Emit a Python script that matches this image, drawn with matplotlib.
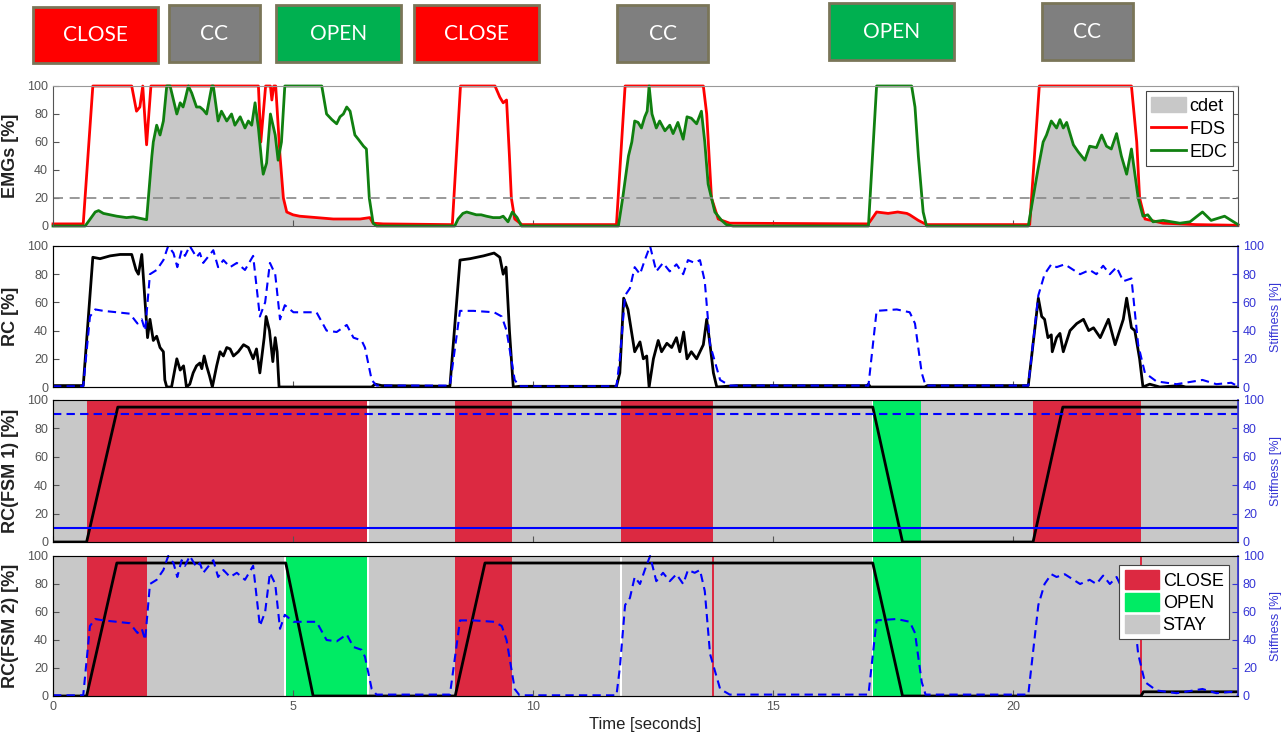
import numpy as np
import matplotlib
matplotlib.use("Agg")
import matplotlib.pyplot as plt
from matplotlib.patches import Rectangle, Patch
from matplotlib.lines import Line2D

plt.rcParams["font.family"] = ["Liberation Sans", "DejaVu Sans"]

# ---- data (time [s], value [%]) ----
fds = [(0, 1.5), (0.63, 1.5), (0.83, 100), (1.64, 100), (1.74, 82), (1.81, 85), (1.87, 100), (1.95, 58),
       (2.04, 100), (4.28, 100), (4.33, 60), (4.38, 80), (4.43, 100), (4.53, 100), (4.56, 90), (4.60, 100),
       (4.64, 100), (4.73, 50), (4.80, 20), (4.87, 10), (5.0, 8), (5.14, 7), (5.49, 6), (5.84, 5), (6.19, 5),
       (6.40, 5), (6.60, 6), (6.67, 2), (6.88, 1.5), (8.27, 1), (8.32, 1), (8.49, 100), (9.21, 100), (9.31, 92),
       (9.38, 88), (9.45, 90), (9.51, 50), (9.55, 20), (9.62, 5), (9.77, 1), (11.74, 1), (11.92, 100),
       (13.55, 100), (13.62, 80), (13.72, 20), (13.86, 5), (14.1, 2), (16.99, 1.5), (17.16, 10), (17.4, 9),
       (17.6, 10), (17.79, 9), (17.85, 8), (18.03, 4), (18.2, 1), (20.35, 1), (20.55, 100), (22.47, 100),
       (22.58, 60), (22.64, 20), (22.75, 5), (23.13, 2), (23.82, 1), (24.69, 0.5)]

edc = [(0, 0), (0.67, 0), (0.88, 10), (0.95, 11), (1.05, 9), (1.19, 8), (1.33, 7), (1.53, 6), (1.67, 6.5),
       (1.88, 5), (1.95, 4.5), (2.06, 50), (2.09, 60), (2.16, 72), (2.23, 65), (2.30, 75), (2.37, 100),
       (2.44, 100), (2.58, 80), (2.65, 88), (2.71, 85), (2.75, 90), (2.82, 100), (2.89, 95), (2.99, 85),
       (3.06, 85), (3.13, 83), (3.20, 80), (3.31, 100), (3.34, 100), (3.44, 75), (3.51, 82), (3.62, 75),
       (3.72, 80), (3.79, 72), (3.90, 78), (4.0, 70), (4.07, 75), (4.14, 72), (4.21, 88), (4.28, 70),
       (4.35, 45), (4.38, 37), (4.45, 45), (4.53, 80), (4.63, 65), (4.69, 47), (4.76, 60), (4.83, 100),
       (5.60, 100), (5.70, 80), (5.81, 76), (5.91, 73), (5.98, 78), (6.05, 80), (6.12, 85), (6.19, 82),
       (6.29, 65), (6.36, 62), (6.47, 57), (6.53, 55), (6.59, 20), (6.67, 2), (6.74, 0), (8.37, 0), (8.44, 5),
       (8.54, 9), (8.62, 10), (8.72, 9), (8.82, 8), (8.92, 8), (9.03, 7), (9.17, 6), (9.31, 6), (9.38, 7),
       (9.48, 3), (9.57, 10), (9.67, 6), (9.76, 0), (11.78, 0), (11.87, 20), (11.99, 50), (12.06, 60),
       (12.12, 75), (12.19, 74), (12.26, 70), (12.33, 78), (12.38, 82), (12.42, 100), (12.48, 80), (12.57, 70),
       (12.64, 75), (12.75, 68), (12.85, 72), (12.92, 66), (13.02, 74), (13.13, 62), (13.21, 78), (13.30, 77),
       (13.41, 73), (13.51, 82), (13.58, 60), (13.65, 30), (13.79, 10), (13.93, 4), (14.03, 1), (14.17, 0),
       (16.99, 0), (17.16, 100), (17.89, 100), (17.96, 85), (18.03, 50), (18.13, 10), (18.2, 0), (20.32, 0),
       (20.42, 20), (20.52, 40), (20.63, 60), (20.70, 65), (20.80, 75), (20.91, 70), (20.98, 76), (21.05, 70),
       (21.12, 74), (21.26, 58), (21.36, 53), (21.50, 47), (21.60, 57), (21.74, 56), (21.85, 65), (21.95, 57),
       (22.05, 55), (22.16, 66), (22.26, 50), (22.37, 37), (22.47, 55), (22.61, 20), (22.71, 7), (22.81, 8),
       (22.92, 3), (23.13, 4), (23.48, 2), (23.69, 3), (23.95, 10), (24.13, 4), (24.41, 7), (24.69, 1)]

cdet = [(0, 0), (0.67, 0), (0.88, 10), (0.95, 11), (1.05, 9), (1.19, 8), (1.33, 7), (1.53, 6), (1.67, 6.5),
        (1.88, 5), (1.95, 4.5), (2.06, 50), (2.09, 58), (2.16, 72), (2.23, 65), (2.30, 75), (2.37, 100),
        (2.44, 100), (2.58, 80), (2.65, 88), (2.71, 85), (2.75, 90), (2.82, 100), (2.89, 95), (2.99, 85),
        (3.06, 85), (3.13, 83), (3.20, 80), (3.31, 100), (3.34, 100), (3.44, 75), (3.51, 82), (3.62, 75),
        (3.72, 80), (3.79, 72), (3.90, 78), (4.0, 70), (4.07, 75), (4.14, 72), (4.21, 88), (4.28, 70),
        (4.35, 45), (4.38, 37), (4.45, 45), (4.53, 80), (4.63, 65), (4.69, 47), (4.73, 48), (4.80, 20),
        (4.87, 10), (5.0, 8), (5.14, 7), (5.49, 6), (5.84, 5), (6.19, 5), (6.40, 5), (6.60, 6), (6.67, 2),
        (6.74, 0), (8.37, 0), (8.44, 5), (8.54, 9), (8.62, 10), (8.72, 9), (8.82, 8), (8.92, 8), (9.03, 7),
        (9.17, 6), (9.31, 6), (9.38, 7), (9.48, 3), (9.57, 9), (9.62, 5), (9.67, 3), (9.76, 0), (11.78, 0),
        (11.87, 20), (11.99, 50), (12.06, 60), (12.12, 75), (12.19, 74), (12.26, 70), (12.33, 78), (12.38, 82),
        (12.42, 100), (12.48, 80), (12.57, 70), (12.64, 75), (12.75, 68), (12.85, 72), (12.92, 66), (13.02, 74),
        (13.13, 62), (13.21, 78), (13.30, 77), (13.41, 73), (13.51, 82), (13.58, 60), (13.65, 30), (13.79, 8),
        (13.93, 3), (14.03, 1), (14.17, 0), (16.99, 0), (17.16, 10), (17.4, 9), (17.6, 10), (17.79, 9),
        (17.85, 8), (18.03, 4), (18.2, 0), (20.32, 0), (20.42, 20), (20.52, 40), (20.63, 60), (20.70, 65),
        (20.80, 75), (20.91, 70), (20.98, 76), (21.05, 70), (21.12, 74), (21.26, 58), (21.36, 53), (21.50, 47),
        (21.60, 57), (21.74, 56), (21.85, 65), (21.95, 57), (22.05, 55), (22.16, 66), (22.26, 50), (22.37, 37),
        (22.47, 55), (22.61, 20), (22.71, 5), (22.81, 4), (22.92, 3), (23.13, 2), (23.48, 1.5), (23.82, 1),
        (24.69, 0.5)]

rc = [(0, 1), (0.63, 1), (0.83, 92), (0.98, 91), (1.19, 93), (1.40, 94), (1.64, 94), (1.73, 83), (1.78, 80),
      (1.85, 94), (1.92, 60), (1.97, 35), (2.02, 48), (2.09, 33), (2.16, 36), (2.23, 28), (2.30, 25), (2.33, 5),
      (2.37, 0), (2.47, 0), (2.58, 20), (2.65, 12), (2.72, 15), (2.75, 8), (2.78, 0), (2.85, 2), (2.92, 10),
      (2.99, 15), (3.06, 17), (3.10, 13), (3.15, 22), (3.20, 15), (3.26, 8), (3.32, 0), (3.41, 15), (3.48, 25),
      (3.55, 22), (3.62, 28), (3.69, 27), (3.76, 22), (3.86, 25), (3.97, 30), (4.07, 28), (4.17, 20), (4.24, 27),
      (4.31, 10), (4.40, 35), (4.44, 50), (4.51, 40), (4.58, 18), (4.63, 35), (4.67, 25), (4.71, 0), (6.64, 0),
      (6.71, 2), (6.85, 1), (8.27, 0.5), (8.48, 90), (8.69, 91), (8.97, 93), (9.19, 95), (9.31, 92), (9.38, 80),
      (9.44, 85), (9.51, 40), (9.59, 0), (9.72, 0.5), (11.74, 0.5), (11.81, 10), (11.89, 63), (11.98, 55),
      (12.05, 40), (12.12, 25), (12.23, 32), (12.30, 20), (12.37, 22), (12.42, 0), (12.51, 20), (12.61, 33),
      (12.68, 25), (12.79, 31), (12.89, 28), (12.99, 35), (13.06, 25), (13.14, 39), (13.21, 20), (13.30, 25),
      (13.41, 20), (13.55, 30), (13.62, 48), (13.69, 30), (13.76, 10), (13.83, 0), (14.03, 0.5), (14.24, 1),
      (16.96, 1), (16.99, 2), (17.03, 0), (18.16, 0), (18.22, 1), (20.32, 1), (20.53, 63), (20.60, 50),
      (20.66, 48), (20.73, 35), (20.80, 37), (20.82, 25), (20.91, 35), (20.98, 38), (21.05, 25), (21.19, 40),
      (21.33, 45), (21.47, 48), (21.58, 40), (21.68, 42), (21.82, 35), (21.99, 48), (22.13, 30), (22.30, 48),
      (22.37, 63), (22.47, 42), (22.54, 40), (22.64, 20), (22.71, 0), (22.85, 2), (23.06, 0), (23.48, 1),
      (23.6, 0), (24.69, 0)]

stiffness = [(0, 0.5), (0.63, 0.5), (0.77, 50), (0.88, 55), (1.05, 54), (1.33, 53), (1.60, 52), (1.76, 45),
             (1.85, 48), (1.92, 40), (2.02, 80), (2.16, 83), (2.30, 90), (2.40, 100), (2.51, 95), (2.59, 85),
             (2.68, 97), (2.75, 93), (2.85, 100), (2.99, 92), (3.06, 95), (3.13, 88), (3.34, 97), (3.44, 85),
             (3.55, 90), (3.69, 85), (3.83, 88), (4.0, 83), (4.17, 93), (4.31, 50), (4.42, 60), (4.52, 88),
             (4.63, 80), (4.73, 48), (4.83, 58), (5.01, 53), (5.49, 53), (5.70, 40), (5.91, 39), (6.12, 44),
             (6.26, 35), (6.43, 33), (6.50, 28), (6.64, 5), (6.74, 1), (8.27, 1), (8.48, 54), (8.76, 54),
             (9.19, 53), (9.35, 50), (9.45, 40), (9.62, 5), (9.72, 0.5), (11.74, 0.5), (11.81, 20), (11.92, 65),
             (12.02, 70), (12.12, 85), (12.23, 80), (12.33, 90), (12.44, 100), (12.57, 82), (12.71, 88),
             (12.85, 82), (12.99, 87), (13.13, 80), (13.23, 90), (13.37, 88), (13.48, 90), (13.58, 75),
             (13.69, 30), (13.90, 5), (14.1, 1), (16.99, 1), (17.16, 54), (17.58, 55), (17.85, 53), (17.96, 45),
             (18.10, 10), (18.18, 1), (20.32, 1), (20.53, 65), (20.66, 80), (20.80, 87), (20.91, 85), (21.08, 87),
             (21.40, 80), (21.60, 83), (21.74, 80), (21.88, 86), (22.02, 80), (22.16, 85), (22.30, 75),
             (22.47, 77), (22.61, 30), (22.75, 10), (22.99, 4), (23.41, 2), (23.95, 5), (24.24, 2), (24.55, 3),
             (24.69, 0.5)]

fsm1_rc = [(0, 0), (0.70, 0), (1.35, 95), (17.08, 95), (17.70, 0), (20.42, 0), (21.04, 95), (24.69, 95)]
fsm2_rc = [(0, 0), (0.70, 0), (1.33, 95), (4.85, 95), (5.42, 0), (8.38, 0), (9.0, 95), (17.08, 95),
           (17.70, 0), (22.67, 0), (22.72, 3), (24.69, 3)]

# state intervals (start, end, state)
fsm1_states = [(0, 0.70, "STAY"), (0.70, 6.55, "CLOSE"), (6.58, 8.38, "STAY"), (8.38, 9.56, "CLOSE"),
               (9.56, 11.83, "STAY"), (11.83, 13.75, "CLOSE"), (13.75, 17.06, "STAY"), (17.08, 18.08, "OPEN"),
               (18.08, 20.42, "STAY"), (20.42, 22.67, "CLOSE"), (22.67, 24.69, "STAY")]
fsm2_states = [(0, 0.70, "STAY"), (0.70, 1.96, "CLOSE"), (1.96, 4.82, "STAY"), (4.85, 6.55, "OPEN"),
               (6.58, 8.38, "STAY"), (8.38, 9.56, "CLOSE"), (9.56, 11.82, "STAY"), (11.85, 13.73, "STAY"),
               (13.73, 13.78, "CLOSE"), (13.78, 17.06, "STAY"), (17.08, 18.08, "OPEN"), (18.08, 22.65, "STAY"),
               (22.65, 22.70, "CLOSE"), (22.70, 24.69, "STAY")]

emg_threshold = 20
stiff_thresholds = [90, 10]

task_labels = ["CLOSE", "CC", "OPEN", "CLOSE", "CC", "OPEN", "CC"]

t_end = 24.69

# ---- style ----
state_colors = {"CLOSE": "#DC2941", "OPEN": "#00EB64", "STAY": "#C8C8C8"}
task_colors = {"CLOSE": "#FF0000", "CC": "#7F7F7F", "OPEN": "#00B050"}
axc = "#555555"
blue = "#0000FF"
tickblue = "#3535D5"

W, H = 1283, 738
fig = plt.figure(figsize=(W / 100, H / 100), dpi=100)

# task boxes on top (pixel boxes: left, top, right, bottom)
boxes = [(33, 7, 158, 63), (169, 5, 260, 62), (276, 5, 401, 62), (414, 5, 539, 62),
         (617, 5, 708, 62), (829, 3, 954, 60), (1042, 3, 1133, 60)]
for lab, (x0, y0, x1, y1) in zip(task_labels, boxes):
    r = Rectangle((x0 / W, 1 - y1 / H), (x1 - x0) / W, (y1 - y0) / H, transform=fig.transFigure,
                  facecolor=task_colors[lab], edgecolor="#7A7558", linewidth=2)
    fig.add_artist(r)
    fig.text((x0 + x1) / 2 / W, 1 - (y0 + y1) / 2 / H, lab, color="white", fontsize=15,
             ha="center", va="center", family="Lato")

L, Wd = 53 / W, (1238 - 53) / W
def panel(top, bot):
    return fig.add_axes([L, 1 - bot / H, Wd, (bot - top) / H])

ax1 = panel(86, 226)
ax2 = panel(246, 387)
ax3 = panel(400, 542)
ax4 = panel(556, 696)

def arr(pairs):
    a = np.array(pairs, dtype=float)
    return a[:, 0], a[:, 1]

def style(ax, ylabel, xlabels=False):
    ax.set_xlim(0, t_end)
    ax.set_ylim(0, 100)
    ax.set_yticks([0, 20, 40, 60, 80, 100])
    ax.set_xticks([0, 5, 10, 15, 20])
    ax.tick_params(direction="in", length=4, labelsize=9, colors=axc, top=False,
                   labelbottom=xlabels)
    for s in ax.spines.values():
        s.set_color(axc)
    ax.spines["top"].set_color("#999999")
    ax.set_ylabel(ylabel, fontsize=13, fontweight="bold", color="#222222")
    ax.yaxis.set_label_coords(-0.029, 0.5)

def right_axis(ax):
    tw = ax.twinx()
    tw.set_ylim(0, 100)
    tw.set_yticks([0, 20, 40, 60, 80, 100])
    tw.tick_params(direction="in", length=4, labelsize=9, colors=tickblue)
    tw.spines["right"].set_color(tickblue)
    tw.spines["right"].set_linewidth(1.2)
    tw.set_ylabel("Stiffness [%]", fontsize=9, color=tickblue)
    tw.yaxis.set_label_coords(1.027, 0.5)
    return tw

# panel 1: EMGs
t, v = arr(cdet)
ax1.fill_between(t, v, 0, color="#C8C8C8", linewidth=0, label="cdet")
t, v = arr(fds)
ax1.plot(t, v, color="#FF0000", lw=2, clip_on=False)
t, v = arr(edc)
ax1.plot(t, v, color="#108010", lw=2, clip_on=False)
ax1.axhline(emg_threshold, color="#888888", ls=(0, (6, 4)), lw=1.2)
style(ax1, "EMGs [%]")
ax1.tick_params(right=True, labelright=False)
h1 = [Patch(color="#C8C8C8"), Line2D([], [], color="#FF0000", lw=2), Line2D([], [], color="#108010", lw=2)]
leg = ax1.legend(h1, ["cdet", "FDS", "EDC"], loc="upper right", fontsize=13, fancybox=False,
                 edgecolor="#444444", handlelength=1.9, handleheight=0.9, borderaxespad=0.3,
                 labelspacing=0.3, borderpad=0.3, handletextpad=0.2, framealpha=1)
leg.get_frame().set_linewidth(0.8)

# panel 2: RC and stiffness
t, v = arr(rc)
ax2.plot(t, v, color="black", lw=2)
style(ax2, "RC [%]")
tw2 = right_axis(ax2)
t, v = arr(stiffness)
tw2.plot(t, v, color=blue, lw=1.5, ls=(0, (4, 2.5)), clip_on=False)

# panel 3: FSM 1
for a, b, s in fsm1_states:
    ax3.axvspan(a, b, color=state_colors[s], lw=0)
t, v = arr(fsm1_rc)
ax3.plot(t, v, color="black", lw=2)
style(ax3, "RC(FSM 1) [%]")
tw3 = right_axis(ax3)
tw3.axhline(stiff_thresholds[0], color=blue, lw=1.5, ls=(0, (4, 2.5)))
tw3.axhline(stiff_thresholds[1], color=blue, lw=1.5)

# panel 4: FSM 2
for a, b, s in fsm2_states:
    ax4.axvspan(a, b, color=state_colors[s], lw=0)
t, v = arr(fsm2_rc)
ax4.plot(t, v, color="black", lw=2)
style(ax4, "RC(FSM 2) [%]", xlabels=True)
ax4.set_xlabel("Time [seconds]", fontsize=12, color="#222222", labelpad=3)
tw4 = right_axis(ax4)
t, v = arr(stiffness)
tw4.plot(t, v, color=blue, lw=1.5, ls=(0, (4, 2.5)), clip_on=False)
h4 = [Patch(color=state_colors[s]) for s in ["CLOSE", "OPEN", "STAY"]]
leg4 = tw4.legend(h4, ["CLOSE", "OPEN", "STAY"], loc="upper right", fontsize=13, fancybox=False,
                  edgecolor="#444444", handlelength=1.9, handleheight=1.2, borderaxespad=0.5,
                  labelspacing=0.15, borderpad=0.3, handletextpad=0.2, framealpha=1)
leg4.get_frame().set_linewidth(0.8)

fig.savefig("out.png", dpi=100)
